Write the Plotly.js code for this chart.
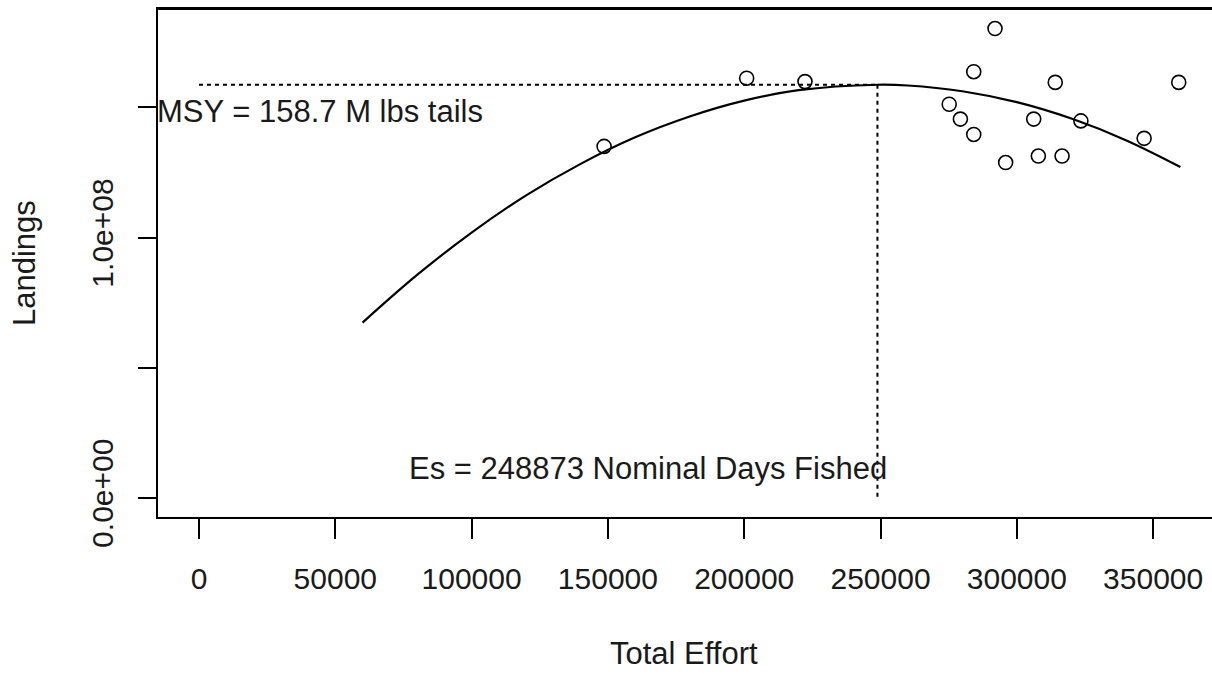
<!DOCTYPE html>
<html>
<head>
<meta charset="utf-8">
<script src="https://cdn.plot.ly/plotly-3.0.1.min.js"></script>
<style>
html,body{margin:0;padding:0;background:#fff;overflow:hidden;}
#chart{width:1212px;height:675px;}
</style>
</head>
<body>
<div id="chart"></div>
<script>
// Observed points (Total Effort vs Landings)
const effort = [148600, 200900, 222300, 275200, 279300, 284200, 284200, 292000, 295900, 306200, 307900, 314100, 316600, 323500, 346700, 359400];
const landings = [135.0e6, 161.2e6, 159.9e6, 151.2e6, 145.5e6, 139.6e6, 163.7e6, 180.3e6, 128.8e6, 145.5e6, 131.3e6, 159.6e6, 131.3e6, 144.8e6, 138.1e6, 159.6e6];

// Fitted curve
const fitEffort = [60000, 80000, 100000, 120000, 140000, 160000, 180000, 200000, 220000, 248873, 260000, 280000, 300000, 320000, 340000, 360000];
const fitLandings = [67.3e6, 85.6e6, 101.9e6, 116.2e6, 128.3e6, 138.5e6, 146.5e6, 152.6e6, 156.6e6, 158.7e6, 158.4e6, 156.2e6, 152.0e6, 145.7e6, 137.4e6, 127.1e6];

// Reference values
const Es = 248873;
const MSY = 158.7e6;

// Tick labels
const xTickVals = [0, 50000, 100000, 150000, 200000, 250000, 300000, 350000];
const xTickText = ["0", "50000", "100000", "150000", "200000", "250000", "300000", "350000"];
const yTickVals = [0, 50e6, 100e6, 150e6];
const yTickText = ["0.0e+00", "", "1.0e+08", ""];

const FONT = "Liberation Sans, Arial, sans-serif";
const TXT = "#1a1a1a";

const traces = [
  {x: [0, Es], y: [MSY, MSY], mode: "lines", line: {color: "#000", width: 2, dash: "4px,4px"}, hoverinfo: "skip"},
  {x: [Es, Es], y: [MSY, 0], mode: "lines", line: {color: "#000", width: 2, dash: "4px,4px"}, hoverinfo: "skip"},
  {x: fitEffort, y: fitLandings, mode: "lines", line: {color: "#000", width: 2.2, shape: "spline"}},
  {x: effort, y: landings, mode: "markers", marker: {symbol: "circle-open", size: 14, color: "#000", line: {width: 1.6, color: "#000"}}}
];

const layout = {
  width: 1212, height: 675,
  margin: {l: 158, r: 0, t: 9, b: 158},
  paper_bgcolor: "#fff", plot_bgcolor: "#fff",
  showlegend: false,
  font: {family: FONT, size: 30, color: TXT},
  xaxis: {
    range: [-15040, 371600],
    showgrid: false, zeroline: false,
    showline: true, linecolor: "#000", linewidth: 2, mirror: true,
    ticks: "outside", ticklen: 20, tickwidth: 2, tickcolor: "#000",
    tickvals: xTickVals, ticktext: xTickText,
    tickfont: {family: FONT, size: 30, color: TXT},
    ticklabelstandoff: 14
  },
  yaxis: {
    range: [-7.4e6, 187.8e6],
    showgrid: false, zeroline: false,
    showline: true, linecolor: "#000", linewidth: 2, mirror: false,
    ticks: "outside", ticklen: 18, tickwidth: 2, tickcolor: "#000",
    tickvals: yTickVals, ticktext: yTickText, tickangle: -90,
    tickfont: {family: FONT, size: 30, color: TXT},
    ticklabelstandoff: 13
  },
  shapes: [
    {type: "line", xref: "paper", yref: "paper", x0: 0, x1: 1, y0: 1, y1: 1, line: {color: "#000", width: 2}}
  ],
  annotations: [
    {text: "MSY = 158.7 M lbs tails", x: 0, xref: "paper", xanchor: "left", y: 148.3e6, yref: "y", yanchor: "middle", showarrow: false, font: {family: FONT, size: 31, color: TXT}, xshift: -3},
    {text: "Es = 248873 Nominal Days Fished", x: 164700, xref: "x", y: 11.4e6, yref: "y", yanchor: "middle", showarrow: false, font: {family: FONT, size: 31, color: TXT}},
    {text: "Total Effort", x: (684 - 158) / 1054, xref: "paper", y: (517 - 653) / 508, yref: "paper", yanchor: "middle", showarrow: false, font: {family: FONT, size: 31, color: TXT}},
    {text: "Landings", x: (24 - 158) / 1054, xref: "paper", y: 0.5, yref: "paper", textangle: -90, xanchor: "center", showarrow: false, font: {family: FONT, size: 31, color: TXT}}
  ]
};

Plotly.newPlot("chart", traces, layout, {displayModeBar: false, staticPlot: true});
</script>
</body>
</html>
